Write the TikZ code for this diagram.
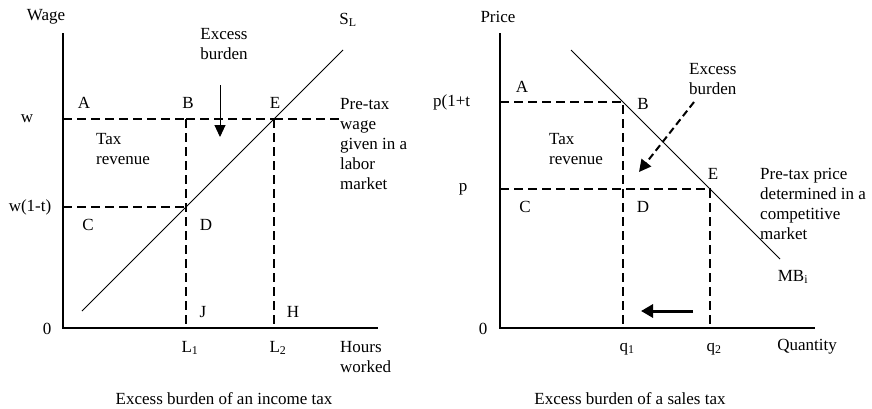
\documentclass[tikz,border=0pt]{standalone}
\usepackage{fontspec}
\setmainfont{Liberation Serif}
\usepackage{tikz}
\usetikzlibrary{arrows.meta,positioning,calc}

\begin{document}
\begin{tikzpicture}[x=1pt,y=-1pt,
    axis/.style={line width=2.9pt},
    curve/.style={line width=1pt},
    dashln/.style={line width=2pt, dash pattern=on 9pt off 5pt},
    thindash/.style={line width=1.1pt, dash pattern=on 9pt off 5pt},
    lbl/.style={inner sep=0pt, font=\fontsize{17}{20}\selectfont},
    txt/.style={lbl, align=left, anchor=north west}]
  \useasboundingbox (0,0) rectangle (872,408);
  % ---- income tax (labour market) ----
  \coordinate (O1) at (63,328);
  \draw[axis] (63,33) -- (O1) -- (378,328);
  \node[lbl] (wage) at (46,17) {Wage};
  \node[lbl] (zero1) at (47,329) {0};
  \coordinate (SLa) at (82,311);
  \coordinate (SLb) at (343,50);
  \draw[curve] (SLa) -- (SLb);
  \node[lbl] (SL) at (348,20) {S\textsubscript{L}};
  % wage levels
  \coordinate (A1) at (63,119);  \coordinate (B1) at (186,119);
  \coordinate (E1) at (274,119); \coordinate (W1) at (343,119);
  \coordinate (C1) at (63,207);  \coordinate (D1) at (186,207);
  \draw[dashln] (A1) -- (B1);
  \draw[thindash] (B1) -- (E1);
  \draw[dashln] (E1) -- (W1);
  \draw[dashln] (C1) -- (D1);
  \draw[dashln] (B1) -- (186,328);
  \draw[dashln] (E1) -- (274,328);
  \node[lbl] (w) at (27,119) {w};
  \node[lbl] (w1t) at (30,207) {w(1-t)};
  \node[lbl] (A1l) at (84,103) {A};
  \node[lbl] (B1l) at (188,103) {B};
  \node[lbl] (E1l) at (275,103) {E};
  \node[lbl] (C1l) at (88,225) {C};
  \node[lbl] (D1l) at (206,225) {D};
  \node[lbl] (J1l) at (203,312) {J};
  \node[lbl] (H1l) at (293,312) {H};
  \node[lbl] (L1) at (190,348) {L\textsubscript{1}};
  \node[lbl] (L2) at (278,348) {L\textsubscript{2}};
  \node[txt] (hours) at (340,341) {Hours\\worked};
  \node[txt] (rev1) at (96,133) {Tax\\revenue};
  \node[lbl, align=center, anchor=north] (eb1) at (224,28) {Excess\\burden};
  \node[txt] (pre1) at (340,98) {Pre-tax\\wage\\given in a\\labor\\market};
  \coordinate (arr1) at (220,85);
  \draw[line width=1pt, -{Triangle[length=12pt,width=11pt]}] (arr1) -- (220,137);
  \node[lbl] (cap1) at (224,399) {Excess burden of an income tax};
  % ---- sales tax (competitive market) ----
  \coordinate (O2) at (500,328);
  \draw[axis] (500,33) -- (O2) -- (815,328);
  \node[lbl] (price) at (498,17) {Price};
  \node[lbl] (zero2) at (483,329) {0};
  \coordinate (MBa) at (571,50);
  \coordinate (MBb) at (780,259);
  \draw[curve] (MBa) -- (MBb);
  \node[lbl] (MB) at (793,277) {MB\textsubscript{i}};
  \coordinate (A2) at (500,102); \coordinate (B2) at (623,102);
  \coordinate (C2) at (500,189); \coordinate (E2) at (710,189);
  \draw[dashln] (A2) -- (B2) -- (623,328);
  \draw[dashln] (C2) -- (E2) -- (710,328);
  \node[lbl, anchor=west] (p1t) at (433,102) {p(1+t};
  \node[lbl] (p) at (463,189) {p};
  \node[lbl] (A2l) at (522,87) {A};
  \node[lbl] (B2l) at (643,104) {B};
  \node[lbl] (E2l) at (713,174) {E};
  \node[lbl] (C2l) at (525,207) {C};
  \node[lbl] (D2l) at (643,207) {D};
  \node[lbl] (q1) at (627,349) {q\textsubscript{1}};
  \node[lbl] (q2) at (714,349) {q\textsubscript{2}};
  \node[lbl] (qty) at (807,347) {Quantity};
  \node[txt] (rev2) at (549,133) {Tax\\revenue};
  \node[txt] (eb2) at (689,63) {Excess\\burden};
  \node[txt] (pre2) at (760,168) {Pre-tax price\\determined in a\\competitive\\market};
  \coordinate (arr2) at (694,102);
  \draw[line width=2pt, dash pattern=on 7pt off 4pt, -{Triangle[length=12pt,width=12pt]}] (arr2) -- (639,172);
  \coordinate (arr3) at (693,311);
  \draw[line width=3pt, -{Triangle[length=12pt,width=13pt]}] (arr3) -- (641,311);
  \node[lbl] (cap2) at (630,399) {Excess burden of a sales tax};
\end{tikzpicture}
\end{document}
